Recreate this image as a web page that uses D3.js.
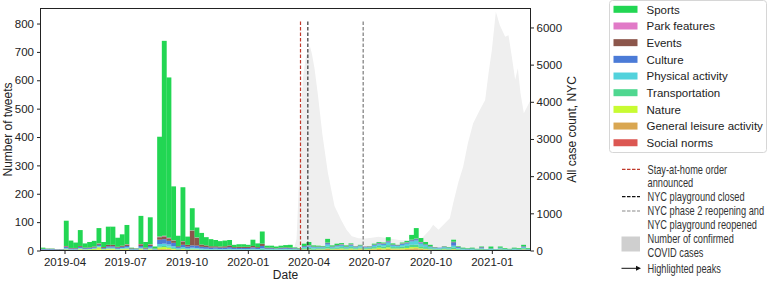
<!DOCTYPE html>
<html>
<head>
<meta charset="utf-8">
<script src="https://cdn.jsdelivr.net/npm/d3@7"></script>
<style>
  body { margin: 0; background: #fff; }
  svg { display: block; font-family: "Liberation Sans", Arial, sans-serif; }
</style>
</head>
<body>
<div id="chart"></div>
<script>
// weekly tweet counts per category, one value per week from 2019-02-24
const sports = [4,1,1,0,0,89,26,19,56,15,19,20,54,18,64,
  64,32,40,68,2,1,99,20,95,7,352,687,565,190,37,
  190,29,78,35,41,29,25,22,19,20,19,8,9,9,7,
  22,13,43,7,7,6,7,8,10,2,2,8,11,4,3,
  2,13,4,5,4,4,3,1,2,0,1,3,3,3,13,
  4,1,3,5,17,37,14,8,5,1,0,1,2,7,2,
  3,2,3,2,2,1,7,1,4,3,2,3,3,5,3];
const parkFeatures = [0,0,0,0,0,1,0,0,0,0,0,0,1,0,0,
  0,0,0,1,0,0,1,0,1,0,2,2,2,1,0,
  1,0,1,1,0,0,0,0,0,0,0,0,0,0,0,
  0,0,0,0,0,0,0,0,0,0,0,0,1,0,0,
  0,1,0,0,1,0,1,0,0,0,0,0,1,1,1,
  0,0,1,1,1,1,1,0,0,0,0,0,0,1,0,
  0,0,0,0,0,0,0,0,0,0,0,0,0,0,0];
const events = [1,1,1,1,1,3,2,2,3,2,2,3,4,3,5,
  5,3,4,5,2,1,6,3,5,1,9,10,9,8,3,
  12,6,52,28,8,6,5,4,4,5,6,3,4,4,4,
  5,3,8,2,2,1,2,2,2,1,1,1,1,1,1,
  1,1,1,1,1,1,1,1,1,1,1,1,1,1,1,
  1,1,1,1,1,1,1,1,1,1,0,1,0,1,1,
  0,0,0,0,1,0,0,0,0,0,0,0,0,1,0];
const culture = [2,2,2,1,1,4,3,3,4,3,3,3,4,3,5,
  5,4,4,5,2,2,6,3,6,2,15,16,13,12,4,
  8,6,8,8,6,6,5,5,5,5,6,4,4,4,4,
  5,4,8,3,3,2,3,3,3,2,1,3,3,2,2,
  2,5,2,3,3,2,3,2,2,2,2,3,3,3,4,
  3,2,3,3,4,5,4,3,2,2,2,2,2,12,3,
  2,2,2,1,3,1,2,1,2,1,1,2,1,3,1];
const physicalActivity = [1,1,1,1,1,2,1,1,2,1,1,2,3,1,2,
  2,2,2,3,1,1,2,1,3,1,8,8,7,6,3,
  4,3,3,3,3,2,2,2,2,2,2,2,2,2,2,
  2,2,3,2,2,2,2,2,2,2,1,4,5,4,3,
  3,8,3,4,5,3,5,3,4,3,1,5,6,6,9,
  5,4,6,8,12,14,9,6,4,2,2,3,2,6,3,
  2,1,2,1,2,1,2,1,2,1,1,2,1,3,1];
const transportation = [1,1,1,1,1,2,1,1,2,1,1,1,2,1,2,
  2,1,2,2,1,1,2,1,2,1,4,4,4,3,2,
  3,2,3,2,2,2,2,2,2,2,2,2,2,2,2,
  2,2,3,2,2,2,2,2,2,2,2,4,5,4,4,
  4,6,4,5,5,4,5,4,4,4,4,5,6,6,8,
  5,5,6,7,8,9,7,6,4,3,3,4,3,6,3,
  2,2,2,1,3,1,2,1,3,2,1,2,2,4,2];
const nature = [0,0,0,0,0,1,1,1,2,2,3,4,8,3,3,
  3,2,2,3,1,1,3,1,2,1,6,7,5,3,1,
  2,1,1,1,1,0,0,0,0,0,0,0,0,0,0,
  0,0,0,0,0,0,0,0,0,1,0,1,1,1,1,
  1,2,2,2,3,2,3,2,3,2,2,3,5,4,5,
  3,3,4,4,5,4,3,2,1,1,1,1,1,1,1,
  0,0,0,0,0,0,0,0,0,0,0,0,0,1,0];
const generalLeisure = [1,1,1,1,1,2,1,1,2,1,1,1,2,1,2,
  2,1,2,2,1,1,2,1,2,1,3,3,3,2,1,
  2,1,2,2,1,1,1,1,1,1,1,1,1,1,1,
  1,1,1,1,1,1,1,1,1,1,1,2,2,2,2,
  2,4,2,3,3,2,3,2,3,2,3,3,4,3,5,
  3,3,3,4,5,6,4,3,3,2,2,2,2,3,2,
  1,1,1,1,2,1,1,1,2,1,1,1,1,2,1];
const socialNorms = [0,0,0,0,0,1,0,0,1,0,0,0,1,0,1,
  1,0,1,1,0,0,1,0,1,0,2,2,2,1,1,
  1,1,1,1,0,1,0,1,0,0,1,0,0,0,0,
  1,0,1,0,0,0,0,1,0,0,0,1,1,0,1,
  1,1,0,1,1,0,1,0,1,0,1,1,1,1,1,
  1,1,1,1,2,2,1,1,0,0,0,1,0,1,0,
  0,0,0,0,1,0,0,0,1,0,0,0,0,1,0];

// stacking order, bottom to top
const categories = ["Social norms","General leisure activity","Nature","Transportation",
  "Physical activity","Culture","Events","Park features","Sports"];
const seriesValues = [socialNorms, generalLeisure, nature, transportation,
  physicalActivity, culture, events, parkFeatures, sports];
const colors = ["#dc5752","#d9a651","#c8fb32","#4fd790","#52d2dc","#4b7bd7","#8c564b","#e17ac7","#22d653"];

// confirmed COVID cases, NYC (daily count)
const caseDates = ["2020-03-01","2020-03-10","2020-03-14","2020-03-17","2020-03-20","2020-03-24",
  "2020-03-28","2020-04-03","2020-04-06","2020-04-10","2020-04-15","2020-04-22","2020-04-30",
  "2020-05-10","2020-05-20","2020-05-28","2020-06-05","2020-06-15","2020-06-25","2020-07-05",
  "2020-07-15","2020-08-01","2020-08-15","2020-09-01","2020-09-16","2020-09-30","2020-10-05",
  "2020-10-13","2020-10-30","2020-11-04","2020-11-12","2020-11-19","2020-11-26","2020-12-04",
  "2020-12-14","2020-12-22","2020-12-27","2021-01-01","2021-01-07","2021-01-13","2021-01-21",
  "2021-01-26","2021-01-31","2021-02-05","2021-02-09","2021-02-13","2021-02-18","2021-02-23","2021-02-28"];
const caseCounts = [0,50,300,1500,3500,4700,5200,5500,5300,4900,4200,3100,2100,
  1200,820,560,380,330,320,340,370,320,280,260,290,555,690,
  560,870,1270,1850,2250,2880,3420,3780,4050,4760,5390,6420,6060,5750,
  5790,5210,4590,4900,4230,3690,3870,4050];

const eventDates = ["2020-03-20","2020-03-31","2020-06-22"];
const eventColors = ["#c0392b","#333333","#7a7a7a"];

const leftTicks = d3.range(0, 801, 100);
const rightTicks = d3.range(0, 6001, 1000);

const W = 772, H = 281;
const L = 40.5, R = 530.5, T = 8.5, B = 250.5;
const parse = d3.utcParse("%Y-%m-%d");
const start = parse("2019-02-24"), end = parse("2021-02-28");
const weeks = d3.utcWeek.range(start, end);

const svg = d3.select("#chart").append("svg").attr("width", W).attr("height", H);

const x = d3.scaleUtc().domain([start, end]).range([L, R]);
const yL = d3.scaleLinear().domain([0, 853]).range([B, T]);
const yR = d3.scaleLinear().domain([0, 6510]).range([B, T]);

// covid area on the twin axis
const cases = caseDates.map((d, i) => ({ date: parse(d), value: caseCounts[i] }));
svg.append("path")
  .datum(cases)
  .attr("fill", "#efefef")
  .attr("d", d3.area().x(d => x(d.date)).y0(yR(0)).y1(d => yR(d.value)));

// stacked weekly bars
const table = weeks.map((w, i) => {
  const row = { week: w };
  categories.forEach((c, k) => row[c] = seriesValues[k][i]);
  return row;
});
const stacked = d3.stack().keys(categories)(table);

svg.append("g").selectAll("g")
  .data(stacked)
  .join("g")
  .attr("fill", (d, k) => colors[k])
  .selectAll("rect")
  .data(d => d)
  .join("rect")
  .attr("x", d => x(d.data.week))
  .attr("width", d => x(d3.utcDay.offset(d.data.week, 7)) - x(d.data.week) + 0.2)
  .attr("y", d => yL(d[1]))
  .attr("height", d => yL(d[0]) - yL(d[1]));

// event lines
svg.append("g").selectAll("line")
  .data(eventDates)
  .join("line")
  .attr("x1", d => x(parse(d))).attr("x2", d => x(parse(d)))
  .attr("y1", yL(0)).attr("y2", yL(812))
  .attr("stroke", (d, i) => eventColors[i])
  .attr("stroke-width", 1.2)
  .attr("stroke-dasharray", "3.5,2");

// axes
svg.append("g")
  .attr("transform", `translate(0,${B})`)
  .call(d3.axisBottom(x).ticks(d3.utcMonth.every(3)).tickFormat(d3.utcFormat("%Y-%m"))
    .tickSize(3.5).tickPadding(4))
  .call(g => g.select(".domain").remove());
svg.append("g")
  .attr("transform", `translate(${L},0)`)
  .call(d3.axisLeft(yL).tickValues(leftTicks).tickSize(3.5).tickPadding(3))
  .call(g => g.select(".domain").remove());
svg.append("g")
  .attr("transform", `translate(${R},0)`)
  .call(d3.axisRight(yR).tickValues(rightTicks).tickFormat(d3.format("d")).tickSize(3.5).tickPadding(2.5))
  .call(g => g.select(".domain").remove());
svg.selectAll(".tick text").attr("font-size", 11.5).attr("fill", "#222")
  .attr("font-family", '"Liberation Sans", Arial, sans-serif');
svg.selectAll(".tick line").attr("stroke", "#222");

svg.append("rect")
  .attr("x", L).attr("y", T).attr("width", R - L).attr("height", B - T)
  .attr("fill", "none").attr("stroke", "#222").attr("stroke-width", 1);

// axis titles
svg.append("text").attr("transform", `translate(12,${(T + B) / 2}) rotate(-90)`)
  .attr("text-anchor", "middle").attr("font-size", 12).attr("fill", "#222").text("Number of tweets");
svg.append("text").attr("transform", `translate(576,${(T + B) / 2}) rotate(-90)`)
  .attr("text-anchor", "middle").attr("font-size", 12).attr("fill", "#222").text("All case count, NYC");
svg.append("text").attr("x", (L + R) / 2).attr("y", 279)
  .attr("text-anchor", "middle").attr("font-size", 12).attr("fill", "#222").text("Date");

// category legend
const lg = svg.append("g");
lg.append("rect").attr("x", 609.5).attr("y", 0.5).attr("width", 157).attr("height", 152)
  .attr("rx", 3).attr("fill", "#fff").attr("stroke", "#d6d6d6");
const legendItems = categories.map((c, k) => ({ name: c, color: colors[k] })).reverse();
const li = lg.selectAll("g.item").data(legendItems).join("g")
  .attr("class", "item")
  .attr("transform", (d, i) => `translate(0,${9.3 + i * 16.68})`);
li.append("rect").attr("x", 613.5).attr("y", -3.5).attr("width", 24).attr("height", 7)
  .attr("fill", d => d.color);
li.append("text").attr("x", 646.5).attr("y", 4.2).attr("font-size", 11.5).attr("fill", "#222")
  .text(d => d.name);

// annotation legend (narrow face imitated by a horizontal squeeze)
const ag = svg.append("g").attr("font-size", 12.5).attr("fill", "#333");
const noteLines = [
  { y: 169.3, text: "Stay-at-home order" },
  { y: 182.7, text: "announced" },
  { y: 196.7, text: "NYC playground closed" },
  { y: 211, text: "NYC phase 2 reopening and" },
  { y: 225, text: "NYC playground reopened" },
  { y: 239, text: "Number of confirmed" },
  { y: 252.3, text: "COVID cases" },
  { y: 268.3, text: "Highlighted peaks" }
];
ag.selectAll("text").data(noteLines).join("text")
  .attr("transform", d => `translate(647.5,${d.y + 4.3}) scale(0.74,1)`)
  .text(d => d.text);
[[169.3, eventColors[0]], [196.7, "#111"], [211, "#8a8a8a"]].forEach(([yy, c]) => {
  ag.append("line").attr("x1", 622).attr("x2", 640).attr("y1", yy).attr("y2", yy)
    .attr("stroke", c).attr("stroke-width", 1.2).attr("stroke-dasharray", "3.5,1.5");
});
ag.append("rect").attr("x", 621.5).attr("y", 236.5).attr("width", 18.5).attr("height", 15)
  .attr("fill", "#cfcfcf");
ag.append("line").attr("x1", 621.5).attr("x2", 637).attr("y1", 268.3).attr("y2", 268.3)
  .attr("stroke", "#111").attr("stroke-width", 1);
ag.append("path").attr("d", "M641,268.3 L636,265.8 L636,270.8 Z").attr("fill", "#111");
</script>
</body>
</html>
